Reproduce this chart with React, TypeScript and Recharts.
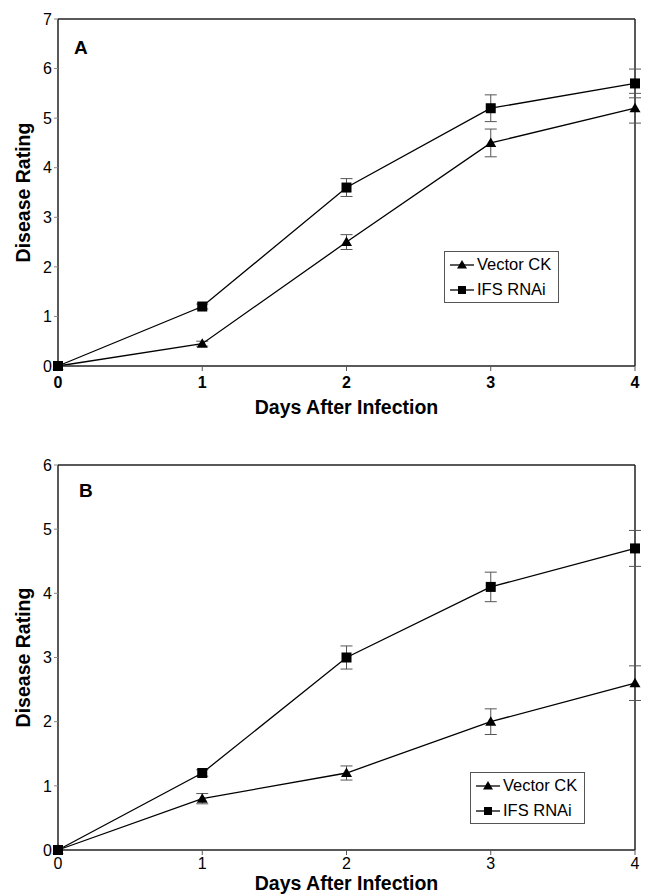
import React from "react"
import {
  LineChart,
  Line,
  XAxis,
  YAxis,
  ErrorBar,
  ReferenceLine,
} from "recharts"

const days = [0, 1, 2, 3, 4]

const vectorA = [0, 0.45, 2.5, 4.5, 5.2]
const vectorAErr = [0, 0.05, 0.15, 0.28, 0.3]
const ifsA = [0, 1.2, 3.6, 5.2, 5.7]
const ifsAErr = [0, 0.05, 0.18, 0.27, 0.29]

const vectorB = [0, 0.8, 1.2, 2.0, 2.6]
const vectorBErr = [0, 0.08, 0.11, 0.2, 0.27]
const ifsB = [0, 1.2, 3.0, 4.1, 4.7]
const ifsBErr = [0, 0.05, 0.18, 0.23, 0.28]

const ticksA = [0, 1, 2, 3, 4, 5, 6, 7]
const ticksB = [0, 1, 2, 3, 4, 5, 6]

const buildRows = (v: number[], ve: number[], f: number[], fe: number[]) =>
  days.map((d, i) => ({ day: d, vector: v[i], vectorErr: ve[i], ifs: f[i], ifsErr: fe[i] }))

const dataA = buildRows(vectorA, vectorAErr, ifsA, ifsAErr)
const dataB = buildRows(vectorB, vectorBErr, ifsB, ifsBErr)

const FONT = "'Liberation Sans', Arial, sans-serif"

const Triangle = (props: any) => {
  const { cx, cy } = props
  if (cx == null || cy == null) return null
  return <path d={`M${cx},${cy - 5.5} L${cx + 5.5},${cy + 4} L${cx - 5.5},${cy + 4} Z`} fill="#000" />
}

const Square = (props: any) => {
  const { cx, cy } = props
  if (cx == null || cy == null) return null
  return <rect x={cx - 5} y={cy - 5} width={10} height={10} fill="#000" />
}

const LegendBox = ({ left, top }: { left: number; top: number }) => (
  <div
    style={{
      position: "absolute",
      left,
      top,
      border: "1px solid #555",
      background: "#fff",
      padding: "0px 7px 0px 4px",
      fontFamily: FONT,
      fontSize: 16.5,
      lineHeight: "25px",
      color: "#000",
    }}
  >
    <div style={{ display: "flex", alignItems: "center" }}>
      <svg width={26} height={12}>
        <line x1={1} y1={6} x2={25} y2={6} stroke="#000" strokeWidth={1.3} />
        <path d="M13,1 L18,9.5 L8,9.5 Z" fill="#000" />
      </svg>
      <span style={{ marginLeft: 2 }}>Vector CK</span>
    </div>
    <div style={{ display: "flex", alignItems: "center" }}>
      <svg width={26} height={12}>
        <line x1={1} y1={6} x2={25} y2={6} stroke="#000" strokeWidth={1.3} />
        <rect x={9} y={2} width={8} height={8} fill="#000" />
      </svg>
      <span style={{ marginLeft: 2 }}>IFS RNAi</span>
    </div>
  </div>
)

type PanelProps = {
  data: any[]
  height: number
  marginTop: number
  marginBottom: number
  xAxisHeight: number
  yMax: number
  yTicks: number[]
  boldX: boolean
}

const Panel = ({ data, height, marginTop, marginBottom, xAxisHeight, yMax, yTicks, boldX }: PanelProps) => (
  <LineChart
    width={649}
    height={height}
    data={data}
    margin={{ top: marginTop, right: 14, left: 0, bottom: marginBottom }}
  >
    <XAxis
      dataKey="day"
      type="number"
      domain={[0, 4]}
      ticks={days}
      height={xAxisHeight}
      axisLine={{ stroke: "#222", strokeWidth: 1.5 }}
      tickLine={{ stroke: "#555" }}
      tickSize={5}
      tick={{ fontSize: 16, fill: "#000", fontFamily: FONT, fontWeight: boldX ? "bold" : "normal", dy: boldX ? 4 : 1 }}
      label={{
        value: "Days After Infection",
        position: "insideBottom",
        offset: 0,
        style: { fontSize: 19.5, fontWeight: "bold", fill: "#000", fontFamily: FONT },
      }}
    />
    <YAxis
      type="number"
      domain={[0, yMax]}
      ticks={yTicks}
      width={58}
      axisLine={{ stroke: "#222", strokeWidth: 1.5 }}
      tickLine={{ stroke: "#888" }}
      tickSize={4}
      tick={{ fontSize: 16, fill: "#000", fontFamily: FONT }}
      label={{
        value: "Disease Rating",
        angle: -90,
        position: "insideLeft",
        offset: 23,
        style: { fontSize: 19.5, fontWeight: "bold", fill: "#000", fontFamily: FONT, textAnchor: "middle" },
      }}
    />
    <ReferenceLine y={yMax} stroke="#222" strokeWidth={1.5} />
    <ReferenceLine x={4} stroke="#222" strokeWidth={1.5} />
    <Line
      dataKey="vector"
      name="Vector CK"
      stroke="#000"
      strokeWidth={1.3}
      isAnimationActive={false}
      dot={<Triangle />}
      activeDot={false}
    >
      <ErrorBar dataKey="vectorErr" width={6} stroke="#555" strokeWidth={1} />
    </Line>
    <Line
      dataKey="ifs"
      name="IFS RNAi"
      stroke="#000"
      strokeWidth={1.3}
      isAnimationActive={false}
      dot={<Square />}
      activeDot={false}
    >
      <ErrorBar dataKey="ifsErr" width={6} stroke="#555" strokeWidth={1} />
    </Line>
  </LineChart>
)

const letterStyle: React.CSSProperties = {
  position: "absolute",
  fontFamily: FONT,
  fontWeight: "bold",
  fontSize: 19,
  color: "#000",
}

export default function App() {
  return (
    <div style={{ position: "absolute", left: 0, top: 0, width: 649, height: 894, background: "#fff" }}>
      <div style={{ position: "absolute", left: 0, top: 0 }}>
        <Panel
          data={dataA}
          height={420}
          marginTop={19}
          marginBottom={6}
          xAxisHeight={48}
          yMax={7}
          yTicks={ticksA}
          boldX={true}
        />
      </div>
      <div style={{ ...letterStyle, left: 74, top: 37 }}>A</div>
      <LegendBox left={444} top={251} />
      <div style={{ position: "absolute", left: 0, top: 440 }}>
        <Panel
          data={dataB}
          height={454}
          marginTop={25}
          marginBottom={4}
          xAxisHeight={40}
          yMax={6}
          yTicks={ticksB}
          boldX={false}
        />
      </div>
      <div style={{ ...letterStyle, left: 79, top: 480 }}>B</div>
      <LegendBox left={470} top={772} />
    </div>
  )
}
